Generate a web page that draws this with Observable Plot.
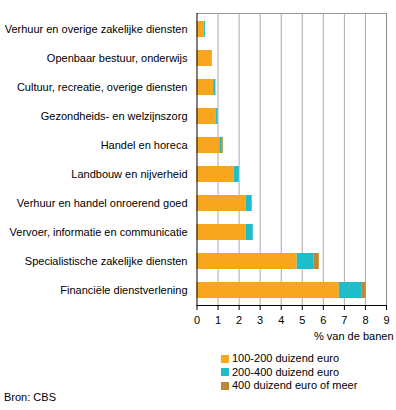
<!DOCTYPE html>
<html>
<head>
<meta charset="utf-8">
<script src="https://cdn.jsdelivr.net/npm/d3@7"></script>
<script src="https://cdn.jsdelivr.net/npm/@observablehq/plot@0.6"></script>
<style>
  body { margin: 0; background: #fff; font-family: "Liberation Sans", Arial, sans-serif; font-size: 11px; color: #000; }
  #wrap { position: relative; width: 396px; height: 410px; }
  #chart { position: absolute; left: 0; top: 0; }
  .legend { position: absolute; left: 221px; top: 352px; }
  .legend div { height: 13.5px; line-height: 13.5px; white-space: nowrap; }
  .legend span.sw { display: inline-block; width: 8px; height: 8px; margin-right: 3px; vertical-align: -0.5px; }
  .source { position: absolute; left: 4px; top: 391px; }
</style>
</head>
<body>
<div id="wrap">
  <div id="chart"></div>
  <div class="legend" id="legend"></div>
  <div class="source">Bron: CBS</div>
</div>
<script>
const sectors = [
  "Verhuur en overige zakelijke diensten",
  "Openbaar bestuur, onderwijs",
  "Cultuur, recreatie, overige diensten",
  "Gezondheids- en welzijnszorg",
  "Handel en horeca",
  "Landbouw en nijverheid",
  "Verhuur en handel onroerend goed",
  "Vervoer, informatie en communicatie",
  "Specialistische zakelijke diensten",
  "Financiële dienstverlening"
];
const series = ["100-200 duizend euro", "200-400 duizend euro", "400 duizend euro of meer"];
const colors = ["#f9a61f", "#1fbdc9", "#bf8731"];
const v100 = [0.33, 0.73, 0.79, 0.92, 1.08, 1.77, 2.34, 2.34, 4.76, 6.76];
const v200 = [0.07, 0.00, 0.11, 0.08, 0.09, 0.24, 0.26, 0.33, 0.81, 1.06];
const v400 = [0.00, 0.00, 0.00, 0.00, 0.08, 0.00, 0.03, 0.00, 0.24, 0.21];
const xTicks = [0, 1, 2, 3, 4, 5, 6, 7, 8, 9];
const gridTicks = [1, 2, 3, 4, 5, 6, 7, 8];

const rows = [];
sectors.forEach((s, i) => {
  [v100, v200, v400].forEach((arr, j) => rows.push({sector: s, series: series[j], value: arr[i]}));
});

const chart = Plot.plot({
  width: 396,
  height: 345,
  marginTop: 13,
  marginBottom: 40,
  marginLeft: 196.5,
  marginRight: 10,
  style: {fontFamily: '"Liberation Sans", Arial, sans-serif', fontSize: "11px", color: "#000", background: "#fff"},
  x: {domain: [0, 9]},
  y: {domain: sectors, paddingInner: 0.45, paddingOuter: 0.225},
  color: {domain: series, range: colors},
  marks: [
    Plot.ruleX(gridTicks, {stroke: "#aaa", strokeWidth: 1}),
    Plot.frame({anchor: "top", stroke: "#999"}),
    Plot.frame({anchor: "right", stroke: "#888"}),
    Plot.barX(rows, Plot.stackX({x: "value", y: "sector", fill: "series", order: series, inset: 0})),
    Plot.ruleX([0], {stroke: "#000"}),
    Plot.frame({anchor: "bottom", stroke: "#000"}),
    Plot.axisX({ticks: xTicks, tickSize: 5, tickPadding: 6, tickFormat: d => d, label: "% van de banen", labelAnchor: "right", labelArrow: "none", labelOffset: 34}),
    Plot.axisY({tickSize: 0, tickPadding: 9.5, label: null})
  ]
});
document.getElementById("chart").appendChild(chart);

const legend = document.getElementById("legend");
series.forEach((s, i) => {
  const d = document.createElement("div");
  const sw = document.createElement("span");
  sw.className = "sw";
  sw.style.background = colors[i];
  d.appendChild(sw);
  d.appendChild(document.createTextNode(s));
  legend.appendChild(d);
});
</script>
</body>
</html>
